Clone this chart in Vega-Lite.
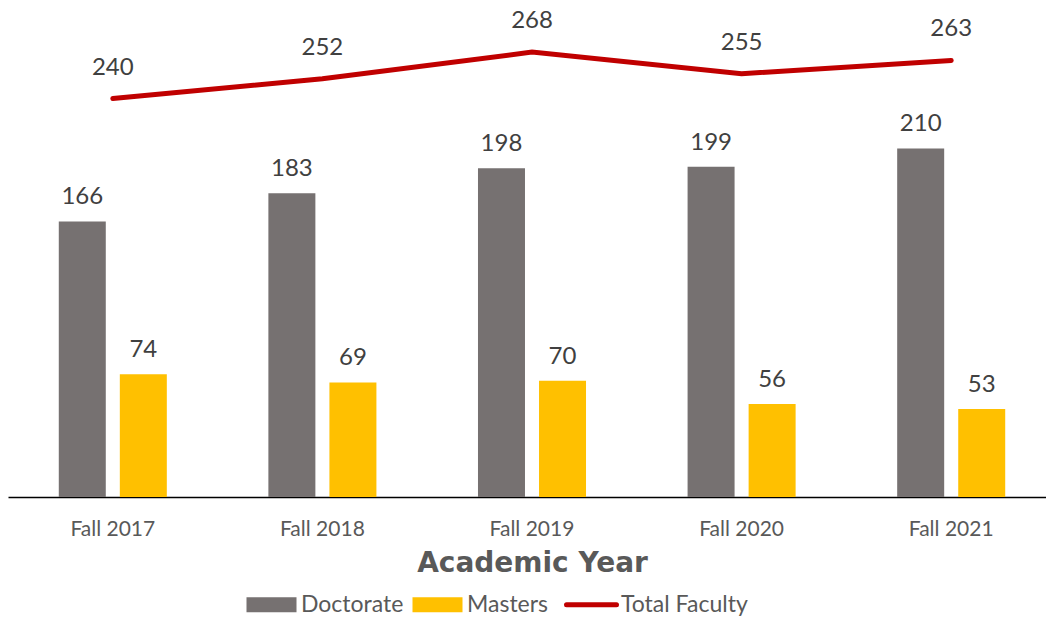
{
  "$schema": "https://vega.github.io/schema/vega-lite/v6.json",
  "autosize": "none",
  "width": 1048,
  "height": 497,
  "padding": {"left": 8, "top": 0, "right": 0, "bottom": 122},
  "background": "white",
  "config": {"view": {"stroke": null}, "font": "Lato"},
  "data": {
    "values": [
      {"year": "Fall 2017", "series": "Doctorate", "value": 166},
      {"year": "Fall 2017", "series": "Masters", "value": 74},
      {"year": "Fall 2017", "series": "Total Faculty", "value": 240},
      {"year": "Fall 2018", "series": "Doctorate", "value": 183},
      {"year": "Fall 2018", "series": "Masters", "value": 69},
      {"year": "Fall 2018", "series": "Total Faculty", "value": 252},
      {"year": "Fall 2019", "series": "Doctorate", "value": 198},
      {"year": "Fall 2019", "series": "Masters", "value": 70},
      {"year": "Fall 2019", "series": "Total Faculty", "value": 268},
      {"year": "Fall 2020", "series": "Doctorate", "value": 199},
      {"year": "Fall 2020", "series": "Masters", "value": 56},
      {"year": "Fall 2020", "series": "Total Faculty", "value": 255},
      {"year": "Fall 2021", "series": "Doctorate", "value": 210},
      {"year": "Fall 2021", "series": "Masters", "value": 53},
      {"year": "Fall 2021", "series": "Total Faculty", "value": 263}
    ]
  },
  "encoding": {
    "x": {
      "field": "year", "type": "nominal", "sort": null,
      "scale": {"paddingInner": 0, "paddingOuter": 0},
      "axis": {
        "title": "Academic Year", "labelAngle": 0, "ticks": false,
        "domainColor": "#000000", "domainWidth": 1.5,
        "labelFontSize": 21, "labelColor": "#595959", "labelPadding": 21,
        "titleFont": "DejaVu Sans", "titleFontWeight": "bold", "titleFontSize": 28,
        "titleColor": "#595959", "titlePadding": 10
      }
    },
    "y": {
      "field": "value", "type": "quantitative",
      "scale": {"domain": [0, 299.4], "nice": false, "zero": true},
      "axis": null
    }
  },
  "layer": [
    {
      "transform": [{"filter": "datum.series !== 'Total Faculty'"}],
      "mark": {"type": "bar"},
      "encoding": {
        "xOffset": {"field": "series", "type": "nominal", "scale": {"paddingInner": 0.23, "paddingOuter": 0.832}},
        "color": {
          "field": "series", "type": "nominal",
          "scale": {"domain": ["Doctorate", "Masters", "Total Faculty"], "range": ["#767171", "#FFC000", "#C00000"]},
          "legend": {
            "title": null, "orient": "none", "direction": "horizontal",
            "legendX": 252, "legendY": 593,
            "labelFontSize": 23, "labelColor": "#595959",
            "symbolSize": 2500, "columnPadding": 8, "labelOffset": 18,
            "encode": {
              "symbols": {
                "update": {
                  "shape": {"signal": "datum.value === 'Total Faculty' ? 'M-1,0H1' : 'M-1,-0.3H1V0.3H-1Z'"},
                  "strokeWidth": {"signal": "datum.value === 'Total Faculty' ? 5 : 0"},
                  "stroke": {"signal": "datum.value === 'Total Faculty' ? '#C00000' : 'transparent'"},
                  "strokeCap": {"value": "round"},
                  "opacity": {"value": 1}
                }
              }
            }
          }
        }
      }
    },
    {
      "transform": [{"filter": "datum.series !== 'Total Faculty'"}],
      "mark": {"type": "text", "baseline": "bottom", "dy": -12, "fontSize": 24, "color": "#404040"},
      "encoding": {
        "xOffset": {"field": "series", "type": "nominal", "scale": {"paddingInner": 0.23, "paddingOuter": 0.832}},
        "text": {"field": "value", "type": "quantitative"}
      }
    },
    {
      "transform": [{"filter": "datum.series === 'Total Faculty'"}],
      "mark": {"type": "line", "color": "#C00000", "strokeWidth": 5, "strokeCap": "round"},
      "encoding": {}
    },
    {
      "transform": [{"filter": "datum.series === 'Total Faculty'"}],
      "mark": {"type": "text", "baseline": "bottom", "dy": -19, "fontSize": 24, "color": "#404040"},
      "encoding": {
        "text": {"field": "value", "type": "quantitative"}
      }
    }
  ]
}
